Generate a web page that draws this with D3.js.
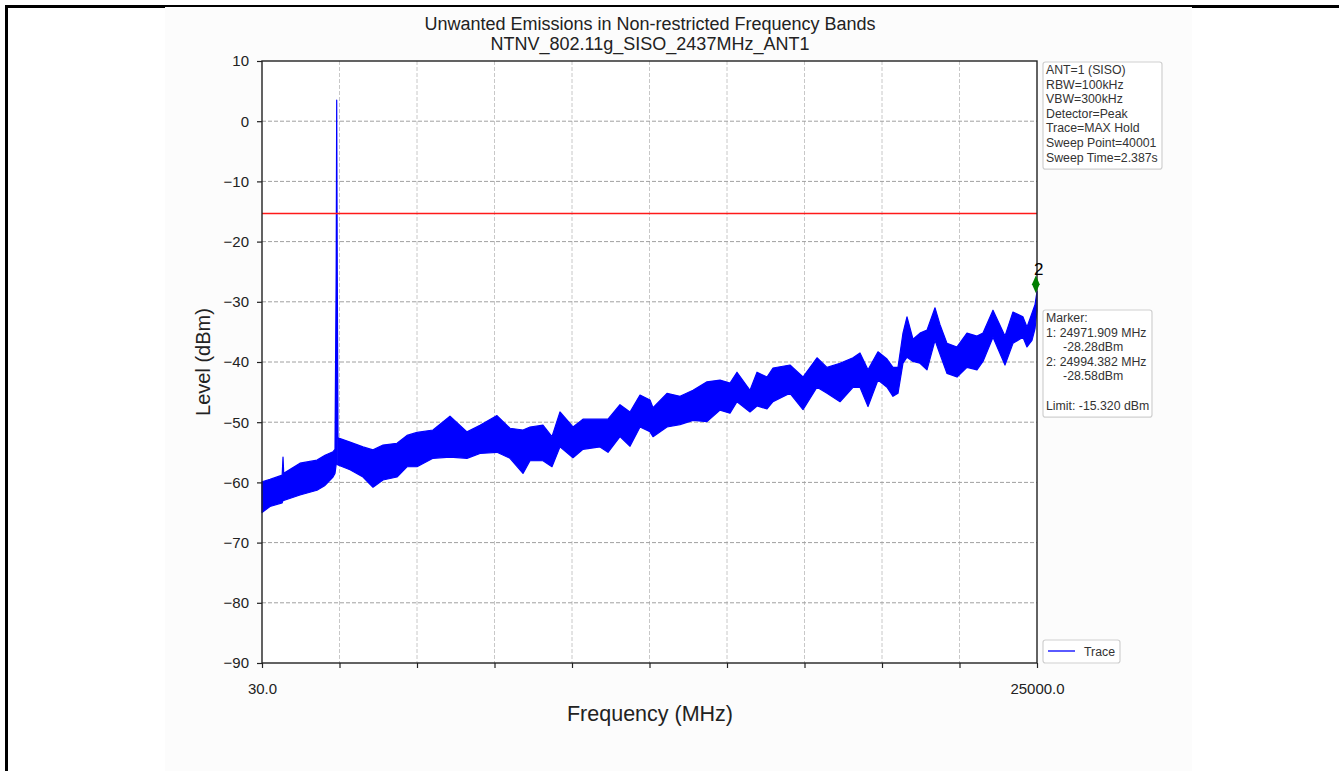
<!DOCTYPE html>
<html>
<head>
<meta charset="utf-8">
<script src="https://cdn.jsdelivr.net/npm/d3@7"></script>
<style>
  body { margin: 0; background: #fff; }
  svg { display: block; font-family: "Liberation Sans", Arial, sans-serif; }
</style>
</head>
<body>
<svg id="chart" width="1339" height="771"></svg>
<script>
// trace envelope (MHz, upper dBm, lower dBm)
const freqMHz = [30, 288, 680, 707, 730, 1254, 1802, 2060, 2318, 2382, 2420, 2437, 2455, 2479,
  2865, 3284, 3606, 3929, 4380, 4702, 5024, 5539, 6087, 6635, 7054, 7601, 8020, 8439, 8665,
  9083, 9373, 9631, 10050, 10372, 10920, 11178, 11564, 11887, 12209, 12531, 12628, 13079,
  13498, 13917, 14368, 14787, 15109, 15334, 15753, 15979, 16301, 16494, 17042, 17461, 17912,
  18234, 18653, 19072, 19297, 19555, 19877, 20167, 20360, 20521, 20682, 20811, 21005, 21230,
  21456, 21714, 21875, 22101, 22423, 22744, 23066, 23260, 23582, 23968, 24226, 24548, 24677,
  24838, 24935, 25000];
const levelHigh = [-59.9, -59.5, -58.8, -55.8, -58.5, -56.8, -56.3, -55.5, -54.9, -54.5, -25, 3.5, -25, -52.6,
  -53.3, -54.1, -54.6, -53.8, -53.5, -52.2, -51.7, -51.3, -49.0, -51.6, -50.5, -48.9, -51.0, -51.3, -50.8,
  -50.5, -52.4, -48.3, -50.8, -49.5, -49.5, -49.5, -47.1, -48.3, -45.5, -46.3, -47.6, -45.2,
  -45.7, -44.7, -43.3, -43.0, -43.5, -41.7, -44.7, -41.7, -42.5, -41.0, -40.5, -42.5, -39.3,
  -40.9, -40.2, -39.3, -38.5, -41.3, -38.3, -39.5, -40.9, -40.9, -35.2, -32.5, -36.2, -35.2,
  -34.7, -31.0, -33.8, -36.9, -37.5, -35.2, -35.7, -35.2, -31.4, -35.7, -31.7, -32.5, -34.2,
  -31.9, -30.5, -28.3];
const levelLow = [-65.0, -64.0, -63.4, -63.0, -63.0, -62.1, -61.3, -60.5, -59.1, -58.5, -57, -30, -57, -57.1,
  -57.9, -59.1, -60.8, -59.6, -59.1, -57.4, -57.4, -56.0, -55.8, -56.0, -55.2, -55.0, -56.0, -58.5, -56.4,
  -56.4, -57.4, -54.1, -55.9, -54.5, -54.1, -55.0, -52.4, -54.0, -50.8, -51.6, -52.4, -50.8,
  -50.4, -49.7, -49.9, -48.0, -48.5, -46.6, -48.3, -47.3, -47.8, -46.6, -45.2, -47.9, -44.2,
  -45.2, -46.6, -44.2, -44.2, -47.4, -43.0, -44.2, -45.7, -45.2, -40.2, -39.2, -39.9, -40.2,
  -41.3, -36.4, -38.7, -41.9, -42.5, -40.9, -41.3, -39.9, -35.9, -40.5, -36.9, -35.9, -37.5,
  -36.4, -34.5, -31.5];

const limitLevel = -15.32;
const markerFreqs = [24971.909, 24994.382];
const markerLevels = [-28.28, -28.58];
const yTickValues = [10, 0, -10, -20, -30, -40, -50, -60, -70, -80, -90];
const xTickValues = [30, 2527, 5024, 7521, 10018, 12515, 15012, 17509, 20006, 22503, 25000];
const xTickLabels = ["30.0", "", "", "", "", "", "", "", "", "", "25000.0"];
const settingsText = ["ANT=1 (SISO)", "RBW=100kHz", "VBW=300kHz", "Detector=Peak",
  "Trace=MAX Hold", "Sweep Point=40001", "Sweep Time=2.387s"];

const svg = d3.select("#chart");
const PLOT = { left: 262, right: 1037, top: 61, bottom: 663 };

// page frame + figure background
svg.append("line").attr("x1", 5).attr("x2", 1339).attr("y1", 6.5).attr("y2", 6.5)
   .attr("stroke", "#000").attr("stroke-width", 3);
svg.append("rect").attr("x", 165).attr("y", 7).attr("width", 1027).attr("height", 764)
   .attr("fill", "#fcfcfc");
svg.append("line").attr("x1", 6.5).attr("x2", 6.5).attr("y1", 5).attr("y2", 771)
   .attr("stroke", "#000").attr("stroke-width", 3);

const x = d3.scaleLinear().domain([30, 25000]).range([PLOT.left, PLOT.right]);
const y = d3.scaleLinear().domain([-90, 10]).range([PLOT.bottom, PLOT.top]);

svg.append("rect").attr("x", PLOT.left).attr("y", PLOT.top)
   .attr("width", PLOT.right - PLOT.left).attr("height", PLOT.bottom - PLOT.top)
   .attr("fill", "#fff");

// grid
svg.append("g").selectAll("line").data(xTickValues.slice(1, -1)).join("line")
   .attr("x1", d => x(d)).attr("x2", d => x(d))
   .attr("y1", PLOT.top).attr("y2", PLOT.bottom)
   .attr("stroke", "#c8c8c8").attr("stroke-dasharray", "4,2");
svg.append("g").selectAll("line").data(yTickValues.slice(1, -1)).join("line")
   .attr("x1", PLOT.left).attr("x2", PLOT.right)
   .attr("y1", d => y(d)).attr("y2", d => y(d))
   .attr("stroke", "#a0a0a0").attr("stroke-dasharray", "4,2");

// trace
const traceData = freqMHz.map((f, i) => ({ f: f, hi: levelHigh[i], lo: levelLow[i] }));
const area = d3.area().x(d => x(d.f)).y0(d => y(d.lo)).y1(d => y(d.hi));
svg.append("path").datum(traceData).attr("d", area)
   .attr("fill", "#0000ff").attr("stroke", "#0000ff").attr("stroke-width", 1.2)
   .attr("stroke-linejoin", "round");

// limit line
svg.append("line").attr("x1", PLOT.left).attr("x2", PLOT.right)
   .attr("y1", Math.round(y(limitLevel)) + 0.5).attr("y2", Math.round(y(limitLevel)) + 0.5)
   .attr("stroke", "#ff1a1a").attr("stroke-width", 1.5);

// axes
const xAxis = d3.axisBottom(x).tickValues(xTickValues).tickSize(5)
                .tickFormat((d, i) => xTickLabels[i]);
const yAxis = d3.axisLeft(y).tickValues(yTickValues).tickSize(5)
                .tickFormat(d => d < 0 ? "\u2212" + Math.abs(d) : d);

const gx = svg.append("g").attr("transform", `translate(0, ${PLOT.bottom})`).call(xAxis);
const gy = svg.append("g").attr("transform", `translate(${PLOT.left}, 0)`).call(yAxis);
[gx, gy].forEach(g => {
  g.select(".domain").remove();
  g.selectAll(".tick line").attr("stroke", "#222").attr("stroke-width", 1.2);
  g.selectAll(".tick text").attr("fill", "#222").style("font-size", "15px");
});
gx.selectAll(".tick text").attr("dy", "0.95em").attr("y", 17);
gy.selectAll(".tick text").attr("x", -13);

// frame
svg.append("rect").attr("x", PLOT.left).attr("y", PLOT.top)
   .attr("width", PLOT.right - PLOT.left).attr("height", PLOT.bottom - PLOT.top)
   .attr("fill", "none").attr("stroke", "#222").attr("stroke-width", 1.4);

// marker 2
const mx = x(markerFreqs[1]), my = y(markerLevels[1]) - 9;
svg.append("path").attr("d", d3.symbol(d3.symbolDiamond, 80)())
   .attr("transform", `translate(${mx - 1}, ${my}) scale(0.8,1.05)`)
   .attr("fill", "#007f00");
svg.append("text").attr("x", mx + 2).attr("y", my - 9).attr("text-anchor", "middle")
   .style("font-size", "17px").attr("fill", "#000").text("2");

// titles
svg.append("text").attr("x", 650).attr("y", 30).attr("text-anchor", "middle")
   .style("font-size", "18px").attr("fill", "#222")
   .text("Unwanted Emissions in Non-restricted Frequency Bands");
svg.append("text").attr("x", 650).attr("y", 50).attr("text-anchor", "middle")
   .style("font-size", "18px").attr("fill", "#222")
   .text("NTNV_802.11g_SISO_2437MHz_ANT1");
svg.append("text").attr("x", 650).attr("y", 721).attr("text-anchor", "middle")
   .style("font-size", "21.5px").attr("fill", "#222").text("Frequency (MHz)");
svg.append("text").attr("transform", "translate(210, 362) rotate(-90)")
   .attr("text-anchor", "middle").style("font-size", "20px").attr("fill", "#222")
   .text("Level (dBm)");

// text boxes on the right
function infoBox(x0, y0, w, lines) {
  const lh = 14.6;
  svg.append("rect").attr("x", x0).attr("y", y0).attr("width", w)
     .attr("height", lines.length * lh + 5).attr("rx", 2.5)
     .attr("fill", "#fff").attr("stroke", "#d0d0d0").attr("stroke-width", 1.2);
  svg.append("g").selectAll("text").data(lines).join("text")
     .attr("x", x0 + 3).attr("y", (d, i) => y0 + 12 + i * lh)
     .style("font-size", "12.3px").attr("fill", "#333")
     .attr("xml:space", "preserve").style("white-space", "pre")
     .text(d => d);
}
infoBox(1043, 62, 119, settingsText);
infoBox(1043, 310, 109, [
  "Marker:",
  "1: " + markerFreqs[0].toFixed(3) + " MHz",
  "     " + markerLevels[0].toFixed(2) + "dBm",
  "2: " + markerFreqs[1].toFixed(3) + " MHz",
  "     " + markerLevels[1].toFixed(2) + "dBm",
  "",
  "Limit: " + limitLevel.toFixed(3) + " dBm"
]);

// legend
svg.append("rect").attr("x", 1043).attr("y", 640).attr("width", 77).attr("height", 23)
   .attr("rx", 2.5).attr("fill", "#fff").attr("stroke", "#d0d0d0").attr("stroke-width", 1.2);
svg.append("line").attr("x1", 1048).attr("x2", 1075).attr("y1", 651).attr("y2", 651)
   .attr("stroke", "#0000ff").attr("stroke-width", 1.3);
svg.append("text").attr("x", 1084).attr("y", 655.5).style("font-size", "12.3px")
   .attr("fill", "#333").text("Trace");
</script>
</body>
</html>
